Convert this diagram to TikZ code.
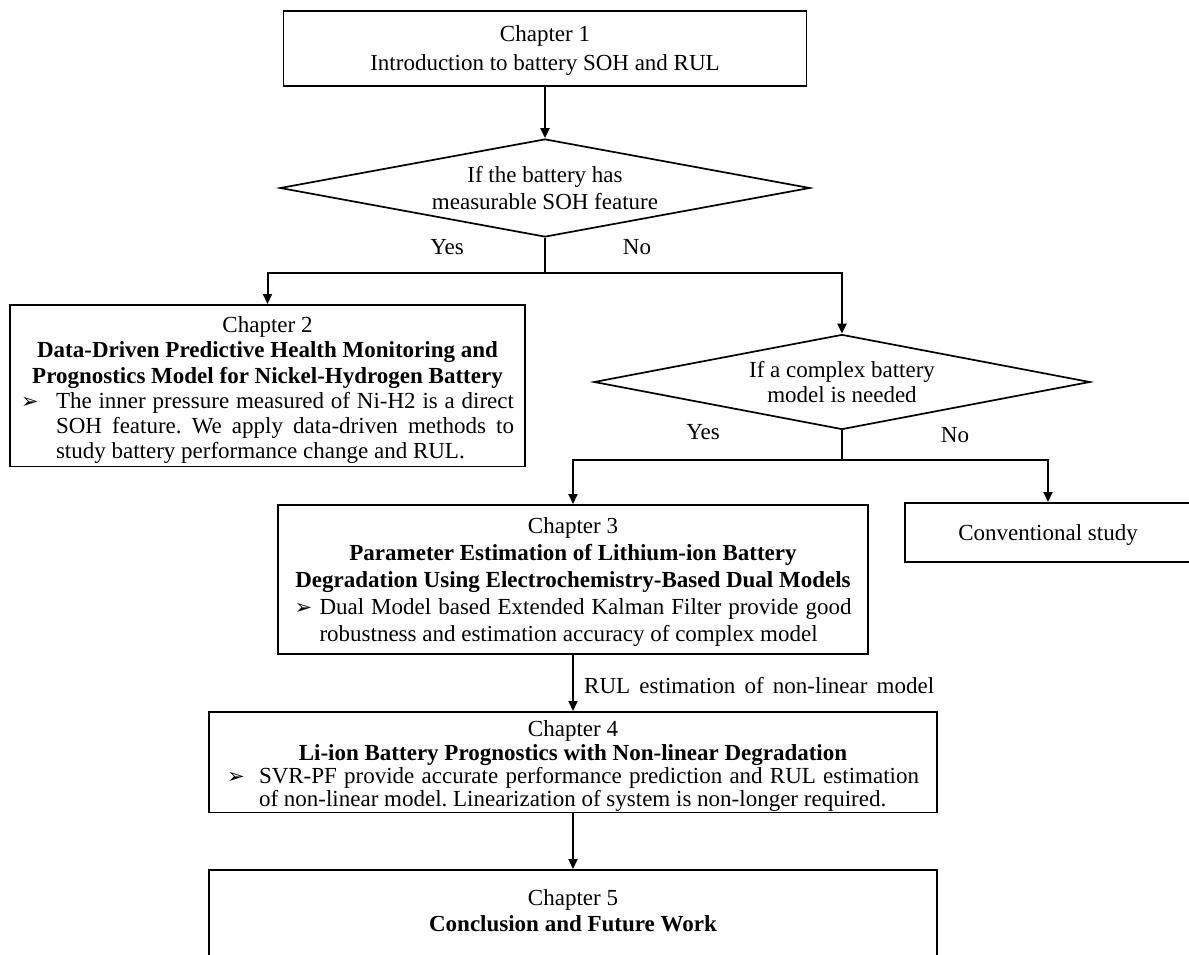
\documentclass[tikz,border=0pt]{standalone}
\usepackage{fontspec}
\setmainfont{Liberation Serif}
\newfontfamily\symfont{DejaVu Sans}
\usetikzlibrary{shapes.geometric,arrows.meta}
\newcommand\bul[1]{\makebox[#1][l]{\symfont\fontsize{21}{21}\selectfont ➢}}
\newcommand\jline[2]{\makebox[#1][s]{#2}}
\begin{document}
\frenchspacing
\begin{tikzpicture}[x=1pt,y=-1pt,
  box/.style={draw, line width=1.7pt, rectangle, inner sep=0pt, align=center, anchor=north},
  dec/.style={draw, line width=1.7pt, diamond, inner sep=0pt, align=center},
  arr/.style={line width=2pt, -{Triangle[length=10pt,width=9pt]}},
  ln/.style={line width=2pt},
  lab/.style={inner sep=0pt, font=\fontsize{23}{26}\selectfont},
]
\useasboundingbox (0,0) rectangle (1189,955);
\clip (0,0) rectangle (1189,955);

\node[box, minimum width=523, text height=59.5pt, text depth=15.5pt, font=\fontsize{23}{29}\selectfont] (c1) at (545,10)
  {Chapter 1\\Introduction to battery SOH and RUL};

\node[dec, aspect=5.4, minimum width=530, minimum height=98, font=\fontsize{23}{27}\selectfont] (d1) at (545,188)
  {If the battery has\\measurable SOH feature};

\node[box, minimum width=515, text height=103.5pt, text depth=58pt, font=\fontsize{23}{25.3}\selectfont] (c2) at (267.5,304)
  {Chapter 2\\\textbf{Data-Driven Predictive Health Monitoring and}\\\textbf{Prognostics Model for Nickel-Hydrogen Battery}\\
   \begin{tabular}[t]{@{}l@{}l@{}}\bul{35pt} & \jline{458pt}{The inner pressure measured of Ni-H2 is a direct}\\
   & \jline{458pt}{SOH feature. We apply data-driven methods to}\\
   & study battery performance change and RUL.\end{tabular}};

\node[dec, aspect=5.2, minimum width=496, minimum height=95, font=\fontsize{23}{25}\selectfont] (d2) at (842,382)
  {If a complex battery\\model is needed};

\node[box, minimum width=590, text height=109.5pt, text depth=39.5pt, font=\fontsize{23}{26.8}\selectfont] (c3) at (573,504)
  {Chapter 3\\\textbf{Parameter Estimation of Lithium-ion Battery}\\\textbf{Degradation Using Electrochemistry-Based Dual Models}\\
   \begin{tabular}[t]{@{}l@{}l@{}}\bul{25pt} & \jline{532pt}{Dual Model based Extended Kalman Filter provide good}\\
   & robustness and estimation accuracy of complex model\end{tabular}};

\node[box, minimum width=286, text height=37.5pt, text depth=21.5pt, font=\fontsize{23}{26}\selectfont] (cv) at (1048,502)
  {Conventional study};

\node[box, minimum width=728, text height=71.5pt, text depth=29pt, font=\fontsize{23}{23.2}\selectfont] (c4) at (573,711)
  {Chapter 4\\\textbf{Li-ion Battery Prognostics with Non-linear Degradation}\\
   \begin{tabular}[t]{@{}l@{}l@{}}\bul{32pt} & \jline{660pt}{SVR-PF provide accurate performance prediction and RUL estimation}\\
   & of non-linear model. Linearization of system is non-longer required.\end{tabular}};

\node[box, minimum width=728, text height=61.5pt, text depth=100pt, font=\fontsize{23}{26}\selectfont] (c5) at (573,869)
  {Chapter 5\\\textbf{Conclusion and Future Work}};

\coordinate (j1) at (545,273);
\coordinate (j2) at (842,460);

\draw[arr] (c1.south) -- (d1.north);
\draw[ln] (d1.south) -- (j1);
\draw[arr] (j1) -| (c2.north);
\draw[arr] (j1) -| (d2.north);
\draw[ln] (d2.south) -- (j2);
\draw[arr] (j2) -| (c3.north);
\draw[arr] (j2) -| (cv.north);
\draw[arr] (c3.south) -- (c3.south |- c4.north);
\draw[arr] (c4.south) -- (c4.south |- c5.north);

\node[lab] (y1) at (447,247) {Yes};
\node[lab] (n1) at (637,247) {No};
\node[lab] (y2) at (703,432) {Yes};
\node[lab] (n2) at (955,435) {No};
\node[lab, anchor=west] (rl) at (584,686) {\jline{350pt}{RUL estimation of non-linear model}};
\end{tikzpicture}
\end{document}
